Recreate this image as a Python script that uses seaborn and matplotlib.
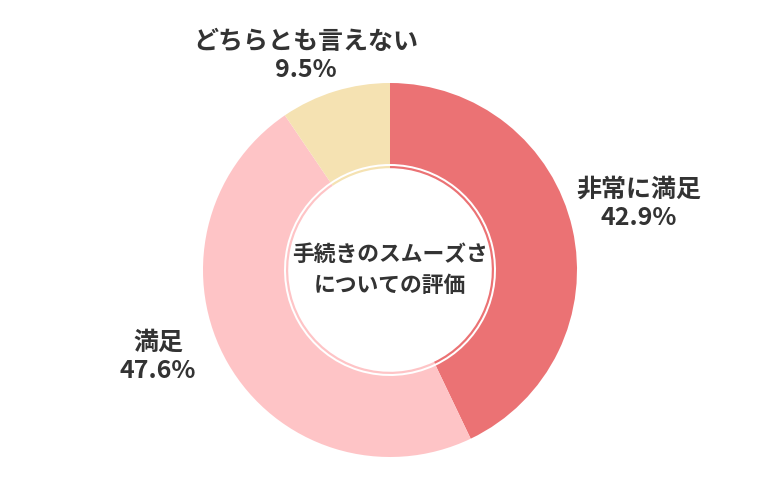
#!/usr/bin/env python3
import matplotlib
matplotlib.use("Agg")
import matplotlib.pyplot as plt
import seaborn as sns

# データ(時計回り、12時の位置から)
categories = ["非常に満足", "満足", "どちらとも言えない"]
values = [42.9, 47.6, 9.5]
colors = ["#EB7274", "#FEC4C6", "#F5E2B2"]
center_title = "手続きのスムーズさ\nについての評価"

# ラベル位置(中心からのピクセル相当オフセット)
label_pos = [(249, 66), (-232, -87), (-84, 214)]


def main():
    sns.set_theme(style="white")
    plt.rcParams["font.family"] = ["Noto Sans CJK JP", "DejaVu Sans"]

    fig = plt.figure(figsize=(7.8, 5.0), dpi=100)
    ax = fig.add_axes([0, 0, 1, 1])

    # 外側のドーナツ
    ax.pie(values, colors=colors, startangle=90, counterclock=False,
           radius=187, wedgeprops={"width": 81, "linewidth": 0},
           center=(0, 0), frame=True)
    # 内側の細いリング
    ax.pie(values, colors=colors, startangle=90, counterclock=False,
           radius=104, wedgeprops={"width": 2.2, "linewidth": 0},
           center=(0, 0), frame=True)

    ax.set_xlim(-390, 390)
    ax.set_ylim(-230, 270)
    ax.set_aspect("equal")
    ax.axis("off")

    txt = "#333333"
    for cat, val, (x, y) in zip(categories, values, label_pos):
        ax.text(x, y, f"{cat}\n{val}%", ha="center", va="center",
                fontsize=18, fontweight="bold", color=txt, linespacing=1.2)

    ax.text(0, 0, center_title, ha="center", va="center",
            fontsize=15.7, fontweight="bold", color=txt, linespacing=1.4)

    fig.savefig("out.png", dpi=100)


if __name__ == "__main__":
    main()
